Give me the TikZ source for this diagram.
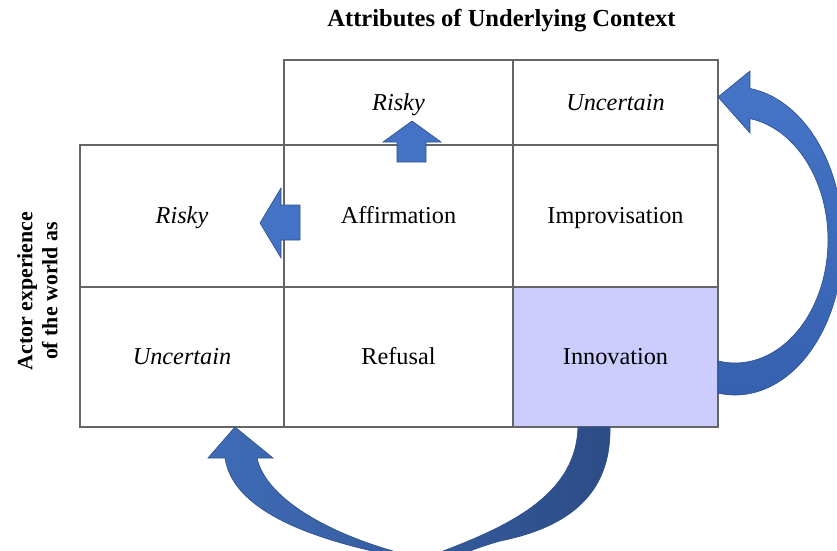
\documentclass[tikz,border=0pt]{standalone}
\usepackage{fontspec}
\setmainfont{Liberation Serif}
\definecolor{gridline}{HTML}{656565}
\definecolor{lavender}{HTML}{CCCCFF}
\definecolor{arrowblue}{HTML}{4472C4}
\definecolor{arrowedge}{HTML}{2F528F}
\definecolor{arrowlight}{HTML}{4675C8}
\definecolor{arrowmid}{HTML}{3561AE}
\definecolor{arrowleft}{HTML}{3F6CB8}
\definecolor{arrowright}{HTML}{2C4C85}

\begin{document}
\begin{tikzpicture}[x=0.75pt,y=-0.75pt,
  cell/.style={draw=gridline, line width=0.9pt, inner sep=0pt,
    text height=13pt, text depth=1.5pt,
    font=\fontsize{18.2}{22}\selectfont, text=black},
  colA/.style={minimum width=153pt},
  colB/.style={minimum width=171.75pt},
  colC/.style={minimum width=153.75pt},
  rowTop/.style={minimum height=63.75pt},
  rowMid/.style={minimum height=106.5pt},
  rowBot/.style={minimum height=105pt},
  blockarrow/.style={fill=arrowblue, draw=arrowedge, line width=0.5pt, line join=miter},
  bigarrow/.style={draw=arrowedge, line width=0.5pt},
]
\useasboundingbox (0,0) rectangle (837,550);
\clip (0,0) rectangle (837,550);

% headings
\node[font=\bfseries\fontsize{18.4}{22}\selectfont, anchor=base] (title) at (501.5,26.7)
  {Attributes of Underlying Context};
\node[rotate=90, align=center, font=\bfseries\fontsize{16.4}{18.75}\selectfont] (actor) at (37.5,291)
  {Actor experience\\of the world as};

% top row: context attributes
\node[cell, colB, rowTop] (ctxRisky) at (398.5,102.5) {\itshape Risky};
\node[cell, colC, rowTop] (ctxUncertain) at (615.5,102.5) {\itshape Uncertain};

% middle row
\node[cell, colA, rowMid] (actRisky) at (182,216) {\itshape Risky};
\node[cell, colB, rowMid] (affirmation) at (398.5,216) {Affirmation};
\node[cell, colC, rowMid] (improvisation) at (615.5,216) {Improvisation};

% bottom row
\node[cell, colA, rowBot] (actUncertain) at (182,357) {\itshape Uncertain};
\node[cell, colB, rowBot] (refusal) at (398.5,357) {Refusal};
\node[cell, colC, rowBot, fill=lavender] (innovation) at (615.5,357) {Innovation};

% small block arrows
\draw[blockarrow] (397,162) -- (397,142) -- (383,142) -- (412,121) -- (441,142)
  -- (426,142) -- (426,162) -- cycle;
\draw[blockarrow] (300,205) -- (281,205) -- (281,188) -- (260,223) -- (281,258)
  -- (281,240) -- (300,240) -- cycle;

% curved arrow: Innovation back up to the uncertain context
\shadedraw[bigarrow, top color=arrowlight, bottom color=arrowmid]
  plot[smooth, domain=99.06:-82.0, samples=60] ({735+108*cos(\x)},{241+154*sin(\x)})
  -- (750,71) -- (718,97) -- (750,133) -- (750,118.6)
  -- plot[smooth, domain=-80.7:100.5, samples=60] ({735+93*cos(\x)},{240+123*sin(\x)})
  -- cycle;

% curved arrow: Innovation round to the uncertain actor experience
% (its lowest sweep runs below the lower edge of the page)
\shadedraw[bigarrow, left color=arrowleft, right color=arrowright]
  (610,427) .. controls (611,485) and (580,525) .. (500,541)
  .. controls (490,544) and (480,547) .. (470,551)
  -- (470,600) -- (372,600) -- (372,551)
  .. controls (295,533) and (232,505) .. (225,458)
  -- (208,458) -- (235,427) -- (273,458) -- (257,458)
  .. controls (265,495) and (320,530) .. (393,551)
  -- (393,580) -- (443,580) -- (443,551)
  .. controls (520,522) and (576,490) .. (578,427)
  -- cycle;
\end{tikzpicture}
\end{document}
